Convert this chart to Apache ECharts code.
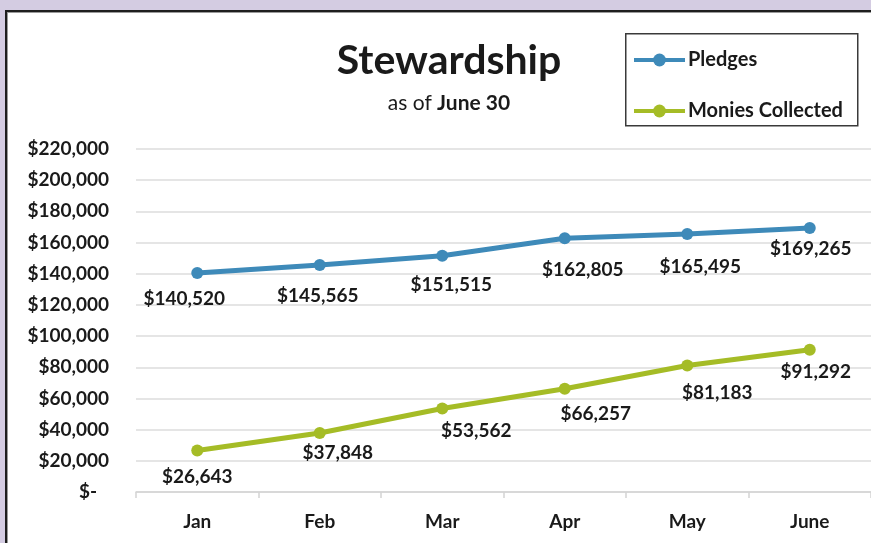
<!DOCTYPE html>
<html>
<head>
<meta charset="utf-8">
<script src="https://cdn.jsdelivr.net/npm/echarts@6/dist/echarts.min.js"></script>
<style>
  html, body { margin: 0; padding: 0; width: 871px; height: 543px; overflow: hidden; background: #d4cce2; }
  #panel { position: absolute; left: 5px; top: 10px; width: 880px; height: 560px; background: #fff; border-top: 2px solid #1e1e1e; border-left: 2px solid #1e1e1e; box-shadow: inset 1px 1px 0 #9a9a9a; }
  #chart { position: absolute; left: 0; top: 0; width: 871px; height: 543px; }
</style>
</head>
<body>
<div id="panel"></div>
<div id="chart"></div>
<script>
const categories = ['Jan', 'Feb', 'Mar', 'Apr', 'May', 'June'];
const pledges = [140520, 145565, 151515, 162805, 165495, 169265];
const moniesCollected = [26643, 37848, 53562, 66257, 81183, 91292];
const yTicks = { min: 0, max: 220000, interval: 20000 };
const seriesNames = ['Pledges', 'Monies Collected'];

// label placement (styling only)
const pledgeLabelOffsets = [[-13, 4], [-2, 9], [9, 8], [18, 10], [13, 11], [1, -1]];
const moniesLabelOffsets = [[0, 5], [18, -2], [34, 1], [31, 4], [30, 6], [6, 1]];

const FONT = 'Lato';
const TXT = '#1a1a1a';
const FS = 19;
const fmt = v => '$' + v.toLocaleString('en-US');

function withOffsets(values, offsets) {
  return values.map((v, i) => ({ value: v, label: { offset: offsets[i] } }));
}

const chart = echarts.init(document.getElementById('chart'), null, { renderer: 'canvas' });
chart.setOption({
  animation: false,
  textStyle: { fontFamily: FONT },
  title: [
    { text: 'Stewardship', left: 444, textAlign: 'center', top: 35,
      textStyle: { fontFamily: FONT, fontWeight: 'bold', fontSize: 41, color: TXT } },
    { text: '{r|as of }{b|June 30}', left: 444, textAlign: 'center', top: 88,
      textStyle: { fontWeight: 'normal', rich: {
        r: { fontFamily: FONT, fontSize: 21, fontWeight: 'normal', color: TXT },
        b: { fontFamily: FONT, fontSize: 21, fontWeight: 'bold', color: TXT } } } }
  ],
  graphic: [
    { type: 'rect', left: 625, top: 33, z: -1,
      shape: { width: 232, height: 92 },
      style: { fill: '#fff', stroke: '#3a3a3a', lineWidth: 1.5 } }
  ],
  legend: {
    data: seriesNames,
    orient: 'vertical',
    left: 627, top: 45,
    itemWidth: 51, itemHeight: 16, itemGap: 31,
    lineStyle: { width: 4 },
    textStyle: { fontFamily: FONT, fontWeight: 'bold', fontSize: 20, color: TXT, padding: [0, 0, 0, -2] }
  },
  grid: { left: 136, right: -15, top: 149, bottom: 51, containLabel: false },
  xAxis: {
    type: 'category', data: categories, boundaryGap: true,
    axisLine: { lineStyle: { color: '#d4d4d4', width: 1.5 } },
    axisTick: { show: true, length: 6, lineStyle: { color: '#d4d4d4', width: 1.5 } },
    axisLabel: { margin: 20, fontFamily: FONT, fontWeight: 'bold', fontSize: FS, color: TXT }
  },
  yAxis: {
    type: 'value', min: yTicks.min, max: yTicks.max, interval: yTicks.interval,
    axisLine: { show: false }, axisTick: { show: false },
    splitLine: { lineStyle: { color: '#dcdcdc', width: 1.5 } },
    axisLabel: {
      margin: 27, fontFamily: FONT, fontWeight: 'bold', fontSize: FS, color: TXT,
      formatter: v => v === 0 ? '{z|$-}' : fmt(v),
      rich: { z: { fontFamily: FONT, fontWeight: 'bold', fontSize: FS, color: TXT, padding: [0, 12, 0, 0] } }
    }
  },
  series: [
    {
      name: seriesNames[0], type: 'line', data: withOffsets(pledges, pledgeLabelOffsets),
      symbol: 'circle', symbolSize: 12,
      lineStyle: { color: '#3e8ab9', width: 5 },
      itemStyle: { color: '#3e8ab9' },
      label: { show: true, position: 'bottom', distance: 6, formatter: p => fmt(p.value),
        fontFamily: FONT, fontWeight: 'bold', fontSize: FS, color: TXT }
    },
    {
      name: seriesNames[1], type: 'line', data: withOffsets(moniesCollected, moniesLabelOffsets),
      symbol: 'circle', symbolSize: 12,
      lineStyle: { color: '#a5bc26', width: 5 },
      itemStyle: { color: '#a5bc26' },
      label: { show: true, position: 'bottom', distance: 6, formatter: p => fmt(p.value),
        fontFamily: FONT, fontWeight: 'bold', fontSize: FS, color: TXT }
    }
  ]
});
</script>
</body>
</html>
